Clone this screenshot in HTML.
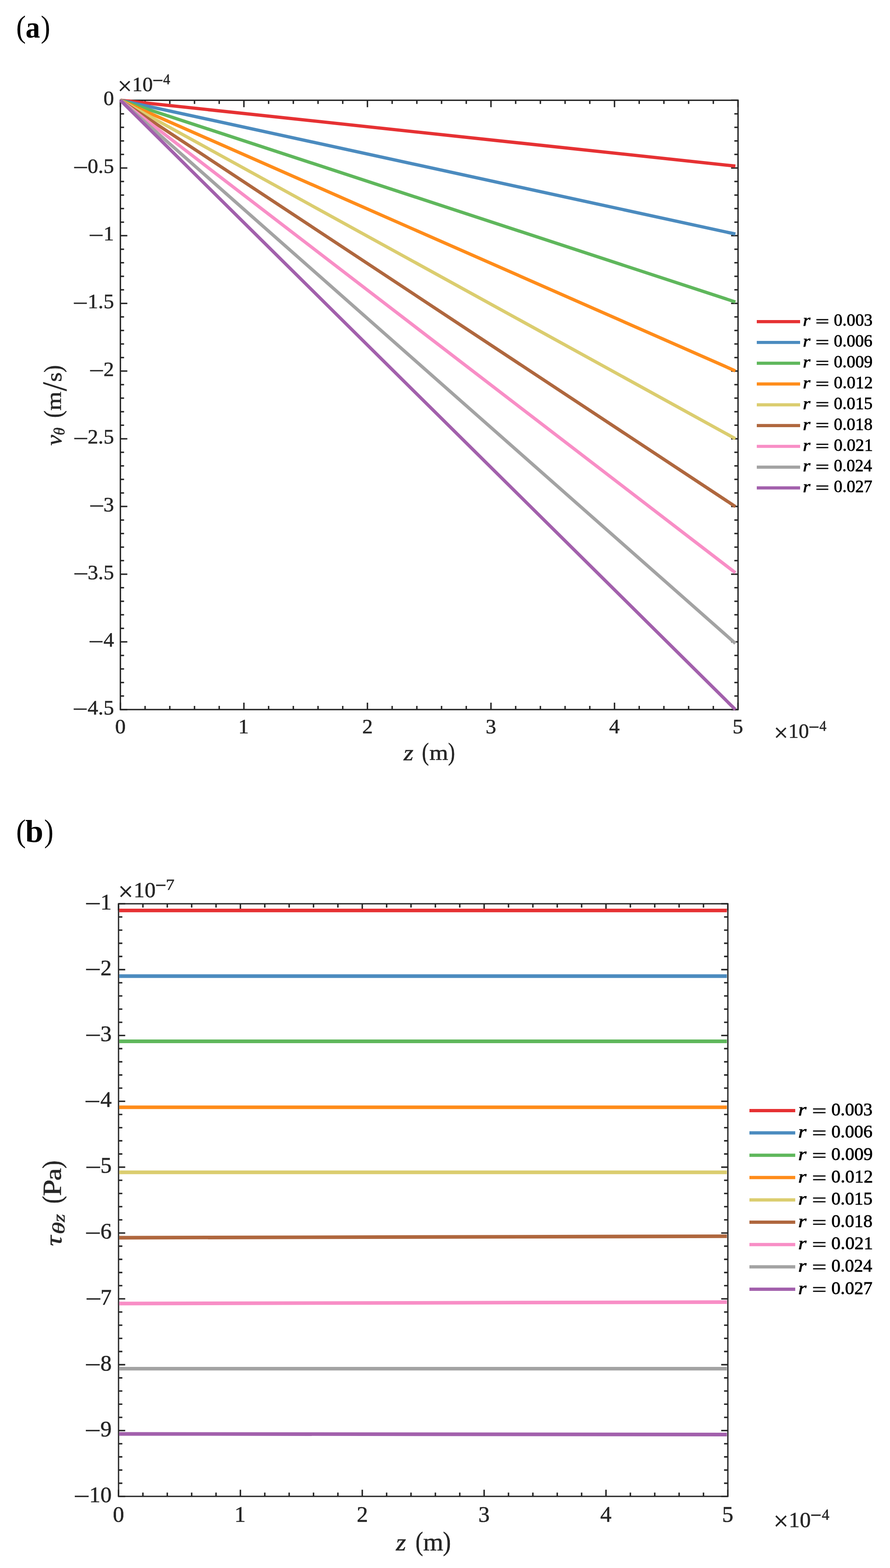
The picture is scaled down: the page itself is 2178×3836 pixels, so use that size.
<!DOCTYPE html>
<html><head><meta charset="utf-8"><title>Figure</title>
<style>
html,body{margin:0;padding:0;background:#fff;}
svg{display:block;}
text{font-family:"Liberation Serif","DejaVu Serif",serif;}
</style></head>
<body>
<svg width="2178" height="3836" viewBox="0 0 2178 3836">
<rect width="2178" height="3836" fill="#fff"/>
<path d="M294.6 1735.9V1718.9M294.6 245.3V262.3M596.9 1735.9V1718.9M596.9 245.3V262.3M899.2 1735.9V1718.9M899.2 245.3V262.3M1201.5 1735.9V1718.9M1201.5 245.3V262.3M1503.8 1735.9V1718.9M1503.8 245.3V262.3M1806.1 1735.9V1718.9M1806.1 245.3V262.3M355.06 1735.9V1726.9M355.06 245.3V254.3M415.52 1735.9V1726.9M415.52 245.3V254.3M475.98 1735.9V1726.9M475.98 245.3V254.3M536.44 1735.9V1726.9M536.44 245.3V254.3M657.36 1735.9V1726.9M657.36 245.3V254.3M717.82 1735.9V1726.9M717.82 245.3V254.3M778.28 1735.9V1726.9M778.28 245.3V254.3M838.74 1735.9V1726.9M838.74 245.3V254.3M959.66 1735.9V1726.9M959.66 245.3V254.3M1020.12 1735.9V1726.9M1020.12 245.3V254.3M1080.58 1735.9V1726.9M1080.58 245.3V254.3M1141.04 1735.9V1726.9M1141.04 245.3V254.3M1261.96 1735.9V1726.9M1261.96 245.3V254.3M1322.42 1735.9V1726.9M1322.42 245.3V254.3M1382.88 1735.9V1726.9M1382.88 245.3V254.3M1443.34 1735.9V1726.9M1443.34 245.3V254.3M1564.26 1735.9V1726.9M1564.26 245.3V254.3M1624.72 1735.9V1726.9M1624.72 245.3V254.3M1685.18 1735.9V1726.9M1685.18 245.3V254.3M1745.64 1735.9V1726.9M1745.64 245.3V254.3M294.6 245.3H311.6M1806.1 245.3H1789.1M294.6 410.92H311.6M1806.1 410.92H1789.1M294.6 576.54H311.6M1806.1 576.54H1789.1M294.6 742.17H311.6M1806.1 742.17H1789.1M294.6 907.79H311.6M1806.1 907.79H1789.1M294.6 1073.41H311.6M1806.1 1073.41H1789.1M294.6 1239.03H311.6M1806.1 1239.03H1789.1M294.6 1404.66H311.6M1806.1 1404.66H1789.1M294.6 1570.28H311.6M1806.1 1570.28H1789.1M294.6 1735.9H311.6M1806.1 1735.9H1789.1M294.6 278.42H303.6M1806.1 278.42H1797.1M294.6 311.55H303.6M1806.1 311.55H1797.1M294.6 344.67H303.6M1806.1 344.67H1797.1M294.6 377.8H303.6M1806.1 377.8H1797.1M294.6 444.05H303.6M1806.1 444.05H1797.1M294.6 477.17H303.6M1806.1 477.17H1797.1M294.6 510.3H303.6M1806.1 510.3H1797.1M294.6 543.42H303.6M1806.1 543.42H1797.1M294.6 609.67H303.6M1806.1 609.67H1797.1M294.6 642.79H303.6M1806.1 642.79H1797.1M294.6 675.92H303.6M1806.1 675.92H1797.1M294.6 709.04H303.6M1806.1 709.04H1797.1M294.6 775.29H303.6M1806.1 775.29H1797.1M294.6 808.42H303.6M1806.1 808.42H1797.1M294.6 841.54H303.6M1806.1 841.54H1797.1M294.6 874.66H303.6M1806.1 874.66H1797.1M294.6 940.91H303.6M1806.1 940.91H1797.1M294.6 974.04H303.6M1806.1 974.04H1797.1M294.6 1007.16H303.6M1806.1 1007.16H1797.1M294.6 1040.29H303.6M1806.1 1040.29H1797.1M294.6 1106.54H303.6M1806.1 1106.54H1797.1M294.6 1139.66H303.6M1806.1 1139.66H1797.1M294.6 1172.78H303.6M1806.1 1172.78H1797.1M294.6 1205.91H303.6M1806.1 1205.91H1797.1M294.6 1272.16H303.6M1806.1 1272.16H1797.1M294.6 1305.28H303.6M1806.1 1305.28H1797.1M294.6 1338.41H303.6M1806.1 1338.41H1797.1M294.6 1371.53H303.6M1806.1 1371.53H1797.1M294.6 1437.78H303.6M1806.1 1437.78H1797.1M294.6 1470.9H303.6M1806.1 1470.9H1797.1M294.6 1504.03H303.6M1806.1 1504.03H1797.1M294.6 1537.15H303.6M1806.1 1537.15H1797.1M294.6 1603.4H303.6M1806.1 1603.4H1797.1M294.6 1636.53H303.6M1806.1 1636.53H1797.1M294.6 1669.65H303.6M1806.1 1669.65H1797.1M294.6 1702.78H303.6M1806.1 1702.78H1797.1" stroke="#262626" stroke-width="3.5" fill="none"/>
<rect x="294.6" y="245.3" width="1511.5" height="1490.6" stroke="#262626" stroke-width="3.4" fill="none"/>
<path d="M294.6 245.3L1799.6 406.3" stroke="#E63133" stroke-width="8.0" fill="none"/>
<path d="M294.6 245.3L1799.6 572.5" stroke="#4B8BBF" stroke-width="8.0" fill="none"/>
<path d="M294.6 245.3L1799.6 738.7" stroke="#5FB75C" stroke-width="8.0" fill="none"/>
<path d="M294.6 245.3L1799.6 907.3" stroke="#FF8C1A" stroke-width="8.0" fill="none"/>
<path d="M294.6 245.3L1799.6 1073.3" stroke="#DBCD6F" stroke-width="8.0" fill="none"/>
<path d="M294.6 245.3L1799.6 1239.3" stroke="#AF673E" stroke-width="8.0" fill="none"/>
<path d="M294.6 245.3L1799.6 1401.2" stroke="#F88EC6" stroke-width="8.0" fill="none"/>
<path d="M294.6 245.3L1799.6 1573.9" stroke="#A3A3A3" stroke-width="8.0" fill="none"/>
<path d="M294.6 245.3L1799.6 1735.9" stroke="#A260AC" stroke-width="8.0" fill="none"/>
<text fill="#262626" stroke="#262626" stroke-width="0.7"><tspan x="253.25" y="257.2" font-size="51.5">0</tspan></text>
<text fill="#262626" stroke="#262626" stroke-width="0.7"><tspan x="178.27" y="427.32" font-size="51.5" textLength="37.57" lengthAdjust="spacingAndGlyphs">−</tspan><tspan x="214.62" y="422.82" font-size="51.5">0.5</tspan></text>
<text fill="#262626" stroke="#262626" stroke-width="0.7"><tspan x="216.26" y="592.94" font-size="51.5" textLength="37.57" lengthAdjust="spacingAndGlyphs">−</tspan><tspan x="253.25" y="588.44" font-size="51.5">1</tspan></text>
<text fill="#262626" stroke="#262626" stroke-width="0.7"><tspan x="177.63" y="758.57" font-size="51.5" textLength="37.57" lengthAdjust="spacingAndGlyphs">−</tspan><tspan x="214.62" y="754.07" font-size="51.5">1.5</tspan></text>
<text fill="#262626" stroke="#262626" stroke-width="0.7"><tspan x="217.2" y="924.19" font-size="51.5" textLength="37.57" lengthAdjust="spacingAndGlyphs">−</tspan><tspan x="253.25" y="919.69" font-size="51.5">2</tspan></text>
<text fill="#262626" stroke="#262626" stroke-width="0.7"><tspan x="178.57" y="1089.81" font-size="51.5" textLength="37.57" lengthAdjust="spacingAndGlyphs">−</tspan><tspan x="214.62" y="1085.31" font-size="51.5">2.5</tspan></text>
<text fill="#262626" stroke="#262626" stroke-width="0.7"><tspan x="217.4" y="1255.43" font-size="51.5" textLength="37.57" lengthAdjust="spacingAndGlyphs">−</tspan><tspan x="253.25" y="1250.93" font-size="51.5">3</tspan></text>
<text fill="#262626" stroke="#262626" stroke-width="0.7"><tspan x="178.77" y="1421.06" font-size="51.5" textLength="37.57" lengthAdjust="spacingAndGlyphs">−</tspan><tspan x="214.62" y="1416.56" font-size="51.5">3.5</tspan></text>
<text fill="#262626" stroke="#262626" stroke-width="0.7"><tspan x="215.94" y="1586.68" font-size="51.5" textLength="37.57" lengthAdjust="spacingAndGlyphs">−</tspan><tspan x="253.25" y="1582.18" font-size="51.5">4</tspan></text>
<text fill="#262626" stroke="#262626" stroke-width="0.7"><tspan x="177.31" y="1752.3" font-size="51.5" textLength="37.57" lengthAdjust="spacingAndGlyphs">−</tspan><tspan x="214.62" y="1747.8" font-size="51.5">4.5</tspan></text>
<text fill="#262626" stroke="#262626" stroke-width="0.7"><tspan x="281.73" y="1793.8" font-size="51.5">0</tspan></text>
<text fill="#262626" stroke="#262626" stroke-width="0.7"><tspan x="583.31" y="1793.8" font-size="51.5">1</tspan></text>
<text fill="#262626" stroke="#262626" stroke-width="0.7"><tspan x="886.61" y="1793.8" font-size="51.5">2</tspan></text>
<text fill="#262626" stroke="#262626" stroke-width="0.7"><tspan x="1188.4" y="1793.8" font-size="51.5">3</tspan></text>
<text fill="#262626" stroke="#262626" stroke-width="0.7"><tspan x="1490.82" y="1793.8" font-size="51.5">4</tspan></text>
<text fill="#262626" stroke="#262626" stroke-width="0.7"><tspan x="1792.73" y="1793.8" font-size="51.5">5</tspan></text>
<text fill="#262626" stroke="#262626" stroke-width="0.7"><tspan x="288" y="230.99" font-size="61.96">×</tspan><tspan x="323.48" y="223" font-size="50" textLength="50.34" lengthAdjust="spacingAndGlyphs">10</tspan><tspan x="372.66" y="214.3" font-size="51.5" textLength="26.54" lengthAdjust="spacingAndGlyphs">−</tspan><tspan x="399.33" y="206.1" font-size="36.3" textLength="17.21" lengthAdjust="spacingAndGlyphs">4</tspan></text>
<text fill="#262626" stroke="#262626" stroke-width="0.7"><tspan x="1893.8" y="1812.99" font-size="61.96">×</tspan><tspan x="1929.28" y="1805" font-size="50" textLength="50.34" lengthAdjust="spacingAndGlyphs">10</tspan><tspan x="1978.46" y="1796.3" font-size="51.5" textLength="26.54" lengthAdjust="spacingAndGlyphs">−</tspan><tspan x="2005.13" y="1788.1" font-size="36.3" textLength="17.21" lengthAdjust="spacingAndGlyphs">4</tspan></text>
<text fill="#262626" stroke="#262626" stroke-width="0.7"><tspan x="987.69" y="1859.6" font-size="55" textLength="24.02" lengthAdjust="spacingAndGlyphs" font-style="italic">z</tspan><tspan x="1032.54" y="1859.99" font-size="60.66" textLength="17.11" lengthAdjust="spacingAndGlyphs">(</tspan><tspan x="1050.86" y="1858.7" font-size="53.5" textLength="46.07" lengthAdjust="spacingAndGlyphs">m</tspan><tspan x="1096.47" y="1859.99" font-size="60.66" textLength="16.86" lengthAdjust="spacingAndGlyphs">)</tspan></text>
<text fill="#262626" stroke="#262626" stroke-width="0.7" transform="rotate(-90)"><tspan x="-1090.1" y="149.8" font-size="55" textLength="26.1" lengthAdjust="spacingAndGlyphs" font-style="italic">v</tspan><tspan x="-1065.1" y="157.53" font-size="37.94" textLength="19.11" lengthAdjust="spacingAndGlyphs" font-style="italic">θ</tspan><tspan x="-1022.18" y="149.93" font-size="61.87" textLength="18.02" lengthAdjust="spacingAndGlyphs">(</tspan><tspan x="-1004.15" y="148.9" font-size="53.5" textLength="46.17" lengthAdjust="spacingAndGlyphs">m</tspan><tspan x="-956.8" y="162.28" font-size="83.86" textLength="21.9" lengthAdjust="spacingAndGlyphs">/</tspan><tspan x="-934.38" y="149.8" font-size="53.5" textLength="23.57" lengthAdjust="spacingAndGlyphs">s</tspan><tspan x="-911.32" y="149.93" font-size="61.87" textLength="17.76" lengthAdjust="spacingAndGlyphs">)</tspan></text>
<path d="M1852 786.9H1958" stroke="#E63133" stroke-width="7.7"/>
<text fill="#000" stroke="#000" stroke-width="0.9"><tspan x="1964.69" y="797.4" font-size="40.5" textLength="18.38" lengthAdjust="spacingAndGlyphs" font-style="italic">r</tspan><tspan x="1995.51" y="799.95" font-size="40.8" textLength="33.81" lengthAdjust="spacingAndGlyphs">=</tspan><tspan x="2040.5" y="797.4" font-size="41.5" textLength="94.75" lengthAdjust="spacingAndGlyphs">0.003</tspan></text>
<path d="M1852 837.75H1958" stroke="#4B8BBF" stroke-width="7.7"/>
<text fill="#000" stroke="#000" stroke-width="0.9"><tspan x="1964.69" y="848.25" font-size="40.5" textLength="18.38" lengthAdjust="spacingAndGlyphs" font-style="italic">r</tspan><tspan x="1995.51" y="850.8" font-size="40.8" textLength="33.81" lengthAdjust="spacingAndGlyphs">=</tspan><tspan x="2040.5" y="848.25" font-size="41.5" textLength="94.35" lengthAdjust="spacingAndGlyphs">0.006</tspan></text>
<path d="M1852 888.6H1958" stroke="#5FB75C" stroke-width="7.7"/>
<text fill="#000" stroke="#000" stroke-width="0.9"><tspan x="1964.69" y="899.1" font-size="40.5" textLength="18.38" lengthAdjust="spacingAndGlyphs" font-style="italic">r</tspan><tspan x="1995.51" y="901.65" font-size="40.8" textLength="33.81" lengthAdjust="spacingAndGlyphs">=</tspan><tspan x="2040.49" y="899.1" font-size="41.5" textLength="94.83" lengthAdjust="spacingAndGlyphs">0.009</tspan></text>
<path d="M1852 939.45H1958" stroke="#FF8C1A" stroke-width="7.7"/>
<text fill="#000" stroke="#000" stroke-width="0.9"><tspan x="1964.69" y="949.95" font-size="40.5" textLength="18.38" lengthAdjust="spacingAndGlyphs" font-style="italic">r</tspan><tspan x="1995.51" y="952.5" font-size="40.8" textLength="33.81" lengthAdjust="spacingAndGlyphs">=</tspan><tspan x="2040.48" y="949.95" font-size="41.5" textLength="95.46" lengthAdjust="spacingAndGlyphs">0.012</tspan></text>
<path d="M1852 990.3H1958" stroke="#DBCD6F" stroke-width="7.7"/>
<text fill="#000" stroke="#000" stroke-width="0.9"><tspan x="1964.69" y="1000.8" font-size="40.5" textLength="18.38" lengthAdjust="spacingAndGlyphs" font-style="italic">r</tspan><tspan x="1995.51" y="1003.35" font-size="40.8" textLength="33.81" lengthAdjust="spacingAndGlyphs">=</tspan><tspan x="2040.5" y="1000.8" font-size="41.5" textLength="94.75" lengthAdjust="spacingAndGlyphs">0.015</tspan></text>
<path d="M1852 1041.15H1958" stroke="#AF673E" stroke-width="7.7"/>
<text fill="#000" stroke="#000" stroke-width="0.9"><tspan x="1964.69" y="1051.65" font-size="40.5" textLength="18.38" lengthAdjust="spacingAndGlyphs" font-style="italic">r</tspan><tspan x="1995.51" y="1054.2" font-size="40.8" textLength="33.81" lengthAdjust="spacingAndGlyphs">=</tspan><tspan x="2040.5" y="1051.65" font-size="41.5" textLength="94.71" lengthAdjust="spacingAndGlyphs">0.018</tspan></text>
<path d="M1852 1092H1958" stroke="#F88EC6" stroke-width="7.7"/>
<text fill="#000" stroke="#000" stroke-width="0.9"><tspan x="1964.69" y="1102.5" font-size="40.5" textLength="18.38" lengthAdjust="spacingAndGlyphs" font-style="italic">r</tspan><tspan x="1995.51" y="1105.05" font-size="40.8" textLength="33.81" lengthAdjust="spacingAndGlyphs">=</tspan><tspan x="2040.48" y="1102.5" font-size="41.5" textLength="95.67" lengthAdjust="spacingAndGlyphs">0.021</tspan></text>
<path d="M1852 1142.85H1958" stroke="#A3A3A3" stroke-width="7.7"/>
<text fill="#000" stroke="#000" stroke-width="0.9"><tspan x="1964.69" y="1153.35" font-size="40.5" textLength="18.38" lengthAdjust="spacingAndGlyphs" font-style="italic">r</tspan><tspan x="1995.51" y="1155.9" font-size="40.8" textLength="33.81" lengthAdjust="spacingAndGlyphs">=</tspan><tspan x="2040.51" y="1153.35" font-size="41.5">0.024</tspan></text>
<path d="M1852 1193.7H1958" stroke="#A260AC" stroke-width="7.7"/>
<text fill="#000" stroke="#000" stroke-width="0.9"><tspan x="1964.69" y="1204.2" font-size="40.5" textLength="18.38" lengthAdjust="spacingAndGlyphs" font-style="italic">r</tspan><tspan x="1995.51" y="1206.75" font-size="40.8" textLength="33.81" lengthAdjust="spacingAndGlyphs">=</tspan><tspan x="2040.5" y="1204.2" font-size="41.5" textLength="94.3" lengthAdjust="spacingAndGlyphs">0.027</tspan></text>
<text fill="#000"><tspan x="39.55" y="90.55" font-size="75.88" textLength="23.86" lengthAdjust="spacingAndGlyphs">(</tspan><tspan x="62.51" y="91.77" font-size="74.32" textLength="35.57" lengthAdjust="spacingAndGlyphs" font-weight="bold">a</tspan><tspan x="99.65" y="90.55" font-size="75.88" textLength="23.21" lengthAdjust="spacingAndGlyphs">)</tspan></text>
<path d="M290.1 3660.8V3644.5M290.1 2211V2227.3M588.32 3660.8V3644.5M588.32 2211V2227.3M886.54 3660.8V3644.5M886.54 2211V2227.3M1184.76 3660.8V3644.5M1184.76 2211V2227.3M1482.98 3660.8V3644.5M1482.98 2211V2227.3M1781.2 3660.8V3644.5M1781.2 2211V2227.3M349.74 3660.8V3651.5M349.74 2211V2220.3M409.39 3660.8V3651.5M409.39 2211V2220.3M469.03 3660.8V3651.5M469.03 2211V2220.3M528.68 3660.8V3651.5M528.68 2211V2220.3M647.96 3660.8V3651.5M647.96 2211V2220.3M707.61 3660.8V3651.5M707.61 2211V2220.3M767.25 3660.8V3651.5M767.25 2211V2220.3M826.9 3660.8V3651.5M826.9 2211V2220.3M946.18 3660.8V3651.5M946.18 2211V2220.3M1005.83 3660.8V3651.5M1005.83 2211V2220.3M1065.47 3660.8V3651.5M1065.47 2211V2220.3M1125.12 3660.8V3651.5M1125.12 2211V2220.3M1244.4 3660.8V3651.5M1244.4 2211V2220.3M1304.05 3660.8V3651.5M1304.05 2211V2220.3M1363.69 3660.8V3651.5M1363.69 2211V2220.3M1423.34 3660.8V3651.5M1423.34 2211V2220.3M1542.62 3660.8V3651.5M1542.62 2211V2220.3M1602.27 3660.8V3651.5M1602.27 2211V2220.3M1661.91 3660.8V3651.5M1661.91 2211V2220.3M1721.56 3660.8V3651.5M1721.56 2211V2220.3M290.1 2211H306.4M1781.2 2211H1764.9M290.1 2372.09H306.4M1781.2 2372.09H1764.9M290.1 2533.18H306.4M1781.2 2533.18H1764.9M290.1 2694.27H306.4M1781.2 2694.27H1764.9M290.1 2855.36H306.4M1781.2 2855.36H1764.9M290.1 3016.44H306.4M1781.2 3016.44H1764.9M290.1 3177.53H306.4M1781.2 3177.53H1764.9M290.1 3338.62H306.4M1781.2 3338.62H1764.9M290.1 3499.71H306.4M1781.2 3499.71H1764.9M290.1 3660.8H306.4M1781.2 3660.8H1764.9M290.1 2243.22H299.4M1781.2 2243.22H1771.9M290.1 2275.44H299.4M1781.2 2275.44H1771.9M290.1 2307.65H299.4M1781.2 2307.65H1771.9M290.1 2339.87H299.4M1781.2 2339.87H1771.9M290.1 2404.31H299.4M1781.2 2404.31H1771.9M290.1 2436.52H299.4M1781.2 2436.52H1771.9M290.1 2468.74H299.4M1781.2 2468.74H1771.9M290.1 2500.96H299.4M1781.2 2500.96H1771.9M290.1 2565.4H299.4M1781.2 2565.4H1771.9M290.1 2597.61H299.4M1781.2 2597.61H1771.9M290.1 2629.83H299.4M1781.2 2629.83H1771.9M290.1 2662.05H299.4M1781.2 2662.05H1771.9M290.1 2726.48H299.4M1781.2 2726.48H1771.9M290.1 2758.7H299.4M1781.2 2758.7H1771.9M290.1 2790.92H299.4M1781.2 2790.92H1771.9M290.1 2823.14H299.4M1781.2 2823.14H1771.9M290.1 2887.57H299.4M1781.2 2887.57H1771.9M290.1 2919.79H299.4M1781.2 2919.79H1771.9M290.1 2952.01H299.4M1781.2 2952.01H1771.9M290.1 2984.23H299.4M1781.2 2984.23H1771.9M290.1 3048.66H299.4M1781.2 3048.66H1771.9M290.1 3080.88H299.4M1781.2 3080.88H1771.9M290.1 3113.1H299.4M1781.2 3113.1H1771.9M290.1 3145.32H299.4M1781.2 3145.32H1771.9M290.1 3209.75H299.4M1781.2 3209.75H1771.9M290.1 3241.97H299.4M1781.2 3241.97H1771.9M290.1 3274.19H299.4M1781.2 3274.19H1771.9M290.1 3306.4H299.4M1781.2 3306.4H1771.9M290.1 3370.84H299.4M1781.2 3370.84H1771.9M290.1 3403.06H299.4M1781.2 3403.06H1771.9M290.1 3435.28H299.4M1781.2 3435.28H1771.9M290.1 3467.49H299.4M1781.2 3467.49H1771.9M290.1 3531.93H299.4M1781.2 3531.93H1771.9M290.1 3564.15H299.4M1781.2 3564.15H1771.9M290.1 3596.36H299.4M1781.2 3596.36H1771.9M290.1 3628.58H299.4M1781.2 3628.58H1771.9" stroke="#262626" stroke-width="3.6" fill="none"/>
<rect x="290.1" y="2211" width="1491.1" height="1449.8" stroke="#262626" stroke-width="3.2" fill="none"/>
<path d="M291.7 2227.4L1778.8 2227.4" stroke="#E63133" stroke-width="8.8" fill="none"/>
<path d="M291.7 2388L1778.8 2388" stroke="#4B8BBF" stroke-width="8.8" fill="none"/>
<path d="M291.7 2547.5L1778.8 2547.5" stroke="#5FB75C" stroke-width="8.8" fill="none"/>
<path d="M291.7 2708.9L1778.8 2708.9" stroke="#FF8C1A" stroke-width="8.8" fill="none"/>
<path d="M291.7 2868L1778.8 2868" stroke="#DBCD6F" stroke-width="8.8" fill="none"/>
<path d="M291.7 3028L1778.8 3024.4" stroke="#AF673E" stroke-width="8.8" fill="none"/>
<path d="M291.7 3189L1778.8 3185.5" stroke="#F88EC6" stroke-width="8.8" fill="none"/>
<path d="M291.7 3348.4L1778.8 3348.4" stroke="#A3A3A3" stroke-width="8.8" fill="none"/>
<path d="M291.7 3508L1778.8 3509.5" stroke="#A260AC" stroke-width="8.8" fill="none"/>
<text fill="#262626" stroke="#262626" stroke-width="0.7"><tspan x="207.21" y="2229.26" font-size="55" textLength="39.87" lengthAdjust="spacingAndGlyphs">−</tspan><tspan x="245.8" y="2225" font-size="55">1</tspan></text>
<text fill="#262626" stroke="#262626" stroke-width="0.7"><tspan x="207.3" y="2390.35" font-size="55" textLength="39.87" lengthAdjust="spacingAndGlyphs">−</tspan><tspan x="245.8" y="2386.09" font-size="55">2</tspan></text>
<text fill="#262626" stroke="#262626" stroke-width="0.7"><tspan x="207.51" y="2551.44" font-size="55" textLength="39.87" lengthAdjust="spacingAndGlyphs">−</tspan><tspan x="245.8" y="2547.18" font-size="55">3</tspan></text>
<text fill="#262626" stroke="#262626" stroke-width="0.7"><tspan x="205.95" y="2712.53" font-size="55" textLength="39.87" lengthAdjust="spacingAndGlyphs">−</tspan><tspan x="245.8" y="2708.27" font-size="55">4</tspan></text>
<text fill="#262626" stroke="#262626" stroke-width="0.7"><tspan x="208.07" y="2873.62" font-size="55" textLength="39.87" lengthAdjust="spacingAndGlyphs">−</tspan><tspan x="245.8" y="2869.36" font-size="55">5</tspan></text>
<text fill="#262626" stroke="#262626" stroke-width="0.7"><tspan x="207.24" y="3034.71" font-size="55" textLength="39.87" lengthAdjust="spacingAndGlyphs">−</tspan><tspan x="245.8" y="3030.44" font-size="55">6</tspan></text>
<text fill="#262626" stroke="#262626" stroke-width="0.7"><tspan x="208.5" y="3195.8" font-size="55" textLength="39.87" lengthAdjust="spacingAndGlyphs">−</tspan><tspan x="245.8" y="3191.53" font-size="55">7</tspan></text>
<text fill="#262626" stroke="#262626" stroke-width="0.7"><tspan x="206.97" y="3356.88" font-size="55" textLength="39.87" lengthAdjust="spacingAndGlyphs">−</tspan><tspan x="245.8" y="3352.62" font-size="55">8</tspan></text>
<text fill="#262626" stroke="#262626" stroke-width="0.7"><tspan x="206.65" y="3517.97" font-size="55" textLength="39.87" lengthAdjust="spacingAndGlyphs">−</tspan><tspan x="245.8" y="3513.71" font-size="55">9</tspan></text>
<text fill="#262626" stroke="#262626" stroke-width="0.7"><tspan x="179.71" y="3679.06" font-size="55" textLength="39.87" lengthAdjust="spacingAndGlyphs">−</tspan><tspan x="218.3" y="3674.8" font-size="55">10</tspan></text>
<text fill="#262626" stroke="#262626" stroke-width="0.7"><tspan x="276.35" y="3723.4" font-size="55">0</tspan></text>
<text fill="#262626" stroke="#262626" stroke-width="0.7"><tspan x="573.8" y="3723.4" font-size="55">1</tspan></text>
<text fill="#262626" stroke="#262626" stroke-width="0.7"><tspan x="873.1" y="3723.4" font-size="55">2</tspan></text>
<text fill="#262626" stroke="#262626" stroke-width="0.7"><tspan x="1170.77" y="3723.4" font-size="55">3</tspan></text>
<text fill="#262626" stroke="#262626" stroke-width="0.7"><tspan x="1469.12" y="3723.4" font-size="55">4</tspan></text>
<text fill="#262626" stroke="#262626" stroke-width="0.7"><tspan x="1766.93" y="3723.4" font-size="55">5</tspan></text>
<text fill="#262626" stroke="#262626" stroke-width="0.7"><tspan x="289.33" y="2202.63" font-size="65.4">×</tspan><tspan x="327.07" y="2194.8" font-size="53" textLength="53.77" lengthAdjust="spacingAndGlyphs">10</tspan><tspan x="379.78" y="2184.3" font-size="54.5" textLength="27.39" lengthAdjust="spacingAndGlyphs">−</tspan><tspan x="405.93" y="2176.8" font-size="38.6" textLength="20.97" lengthAdjust="spacingAndGlyphs">7</tspan></text>
<text fill="#262626" stroke="#262626" stroke-width="0.7"><tspan x="1892.63" y="3743.33" font-size="65.4">×</tspan><tspan x="1930.37" y="3735.5" font-size="53" textLength="53.77" lengthAdjust="spacingAndGlyphs">10</tspan><tspan x="1983.08" y="3725" font-size="54.5" textLength="27.39" lengthAdjust="spacingAndGlyphs">−</tspan><tspan x="2011.29" y="3717.5" font-size="38.6" textLength="18.29" lengthAdjust="spacingAndGlyphs">4</tspan></text>
<text fill="#262626" stroke="#262626" stroke-width="0.7"><tspan x="969.01" y="3793.1" font-size="59.5" textLength="24.72" lengthAdjust="spacingAndGlyphs" font-style="italic">z</tspan><tspan x="1016.72" y="3793.05" font-size="65.07" textLength="18.8" lengthAdjust="spacingAndGlyphs">(</tspan><tspan x="1035.57" y="3793.1" font-size="61.5" textLength="49.43" lengthAdjust="spacingAndGlyphs">m</tspan><tspan x="1084.12" y="3793.05" font-size="65.07" textLength="19.45" lengthAdjust="spacingAndGlyphs">)</tspan></text>
<text fill="#262626" stroke="#262626" stroke-width="0.7" transform="rotate(-90)"><tspan x="-3048.46" y="149.7" font-size="57" textLength="25.41" lengthAdjust="spacingAndGlyphs" font-style="italic">τ</tspan><tspan x="-3019.88" y="157.7" font-size="41.19" textLength="30.02" lengthAdjust="spacingAndGlyphs" font-style="italic">θ</tspan><tspan x="-2989.83" y="158.1" font-size="42.05" textLength="19.8" lengthAdjust="spacingAndGlyphs" font-style="italic">z</tspan><tspan x="-2944.45" y="149.25" font-size="65.51" textLength="18.54" lengthAdjust="spacingAndGlyphs">(</tspan><tspan x="-2926.22" y="149.1" font-size="62.62" textLength="40.86" lengthAdjust="spacingAndGlyphs">P</tspan><tspan x="-2888.43" y="149.09" font-size="57.72" textLength="30.67" lengthAdjust="spacingAndGlyphs">a</tspan><tspan x="-2858.81" y="149.25" font-size="65.51" textLength="19.71" lengthAdjust="spacingAndGlyphs">)</tspan></text>
<path d="M1834 2717H1946.1" stroke="#E63133" stroke-width="8.0"/>
<text fill="#000" stroke="#000" stroke-width="0.9"><tspan x="1953.19" y="2728.7" font-size="43.5" textLength="20.26" lengthAdjust="spacingAndGlyphs" font-style="italic">r</tspan><tspan x="1987.27" y="2730.68" font-size="42.4" textLength="35.39" lengthAdjust="spacingAndGlyphs">=</tspan><tspan x="2034.39" y="2728.7" font-size="44.8">0.003</tspan></text>
<path d="M1834 2771.62H1946.1" stroke="#4B8BBF" stroke-width="8.0"/>
<text fill="#000" stroke="#000" stroke-width="0.9"><tspan x="1953.19" y="2783.32" font-size="43.5" textLength="20.26" lengthAdjust="spacingAndGlyphs" font-style="italic">r</tspan><tspan x="1987.27" y="2785.3" font-size="42.4" textLength="35.39" lengthAdjust="spacingAndGlyphs">=</tspan><tspan x="2034.39" y="2783.32" font-size="44.8">0.006</tspan></text>
<path d="M1834 2826.24H1946.1" stroke="#5FB75C" stroke-width="8.0"/>
<text fill="#000" stroke="#000" stroke-width="0.9"><tspan x="1953.19" y="2837.94" font-size="43.5" textLength="20.26" lengthAdjust="spacingAndGlyphs" font-style="italic">r</tspan><tspan x="1987.27" y="2839.92" font-size="42.4" textLength="35.39" lengthAdjust="spacingAndGlyphs">=</tspan><tspan x="2034.39" y="2837.94" font-size="44.8" textLength="101.26" lengthAdjust="spacingAndGlyphs">0.009</tspan></text>
<path d="M1834 2880.86H1946.1" stroke="#FF8C1A" stroke-width="8.0"/>
<text fill="#000" stroke="#000" stroke-width="0.9"><tspan x="1953.19" y="2892.56" font-size="43.5" textLength="20.26" lengthAdjust="spacingAndGlyphs" font-style="italic">r</tspan><tspan x="1987.27" y="2894.54" font-size="42.4" textLength="35.39" lengthAdjust="spacingAndGlyphs">=</tspan><tspan x="2034.37" y="2892.56" font-size="44.8" textLength="101.92" lengthAdjust="spacingAndGlyphs">0.012</tspan></text>
<path d="M1834 2935.48H1946.1" stroke="#DBCD6F" stroke-width="8.0"/>
<text fill="#000" stroke="#000" stroke-width="0.9"><tspan x="1953.19" y="2947.18" font-size="43.5" textLength="20.26" lengthAdjust="spacingAndGlyphs" font-style="italic">r</tspan><tspan x="1987.27" y="2949.16" font-size="42.4" textLength="35.39" lengthAdjust="spacingAndGlyphs">=</tspan><tspan x="2034.39" y="2947.18" font-size="44.8">0.015</tspan></text>
<path d="M1834 2990.1H1946.1" stroke="#AF673E" stroke-width="8.0"/>
<text fill="#000" stroke="#000" stroke-width="0.9"><tspan x="1953.19" y="3001.8" font-size="43.5" textLength="20.26" lengthAdjust="spacingAndGlyphs" font-style="italic">r</tspan><tspan x="1987.27" y="3003.78" font-size="42.4" textLength="35.39" lengthAdjust="spacingAndGlyphs">=</tspan><tspan x="2034.39" y="3001.8" font-size="44.8">0.018</tspan></text>
<path d="M1834 3044.72H1946.1" stroke="#F88EC6" stroke-width="8.0"/>
<text fill="#000" stroke="#000" stroke-width="0.9"><tspan x="1953.19" y="3056.42" font-size="43.5" textLength="20.26" lengthAdjust="spacingAndGlyphs" font-style="italic">r</tspan><tspan x="1987.27" y="3058.4" font-size="42.4" textLength="35.39" lengthAdjust="spacingAndGlyphs">=</tspan><tspan x="2034.37" y="3056.42" font-size="44.8" textLength="102.16" lengthAdjust="spacingAndGlyphs">0.021</tspan></text>
<path d="M1834 3099.34H1946.1" stroke="#A3A3A3" stroke-width="8.0"/>
<text fill="#000" stroke="#000" stroke-width="0.9"><tspan x="1953.19" y="3111.04" font-size="43.5" textLength="20.26" lengthAdjust="spacingAndGlyphs" font-style="italic">r</tspan><tspan x="1987.27" y="3113.02" font-size="42.4" textLength="35.39" lengthAdjust="spacingAndGlyphs">=</tspan><tspan x="2034.41" y="3111.04" font-size="44.8" textLength="100.09" lengthAdjust="spacingAndGlyphs">0.024</tspan></text>
<path d="M1834 3153.96H1946.1" stroke="#A260AC" stroke-width="8.0"/>
<text fill="#000" stroke="#000" stroke-width="0.9"><tspan x="1953.19" y="3165.66" font-size="43.5" textLength="20.26" lengthAdjust="spacingAndGlyphs" font-style="italic">r</tspan><tspan x="1987.27" y="3167.64" font-size="42.4" textLength="35.39" lengthAdjust="spacingAndGlyphs">=</tspan><tspan x="2034.4" y="3165.66" font-size="44.8">0.027</tspan></text>
<text fill="#000"><tspan x="39.55" y="2059.26" font-size="77.2" textLength="23.86" lengthAdjust="spacingAndGlyphs">(</tspan><tspan x="61.89" y="2059.94" font-size="77.88" textLength="44.34" lengthAdjust="spacingAndGlyphs" font-weight="bold">b</tspan><tspan x="107.89" y="2059.26" font-size="77.2" textLength="22.82" lengthAdjust="spacingAndGlyphs">)</tspan></text>
</svg>
</body></html>
